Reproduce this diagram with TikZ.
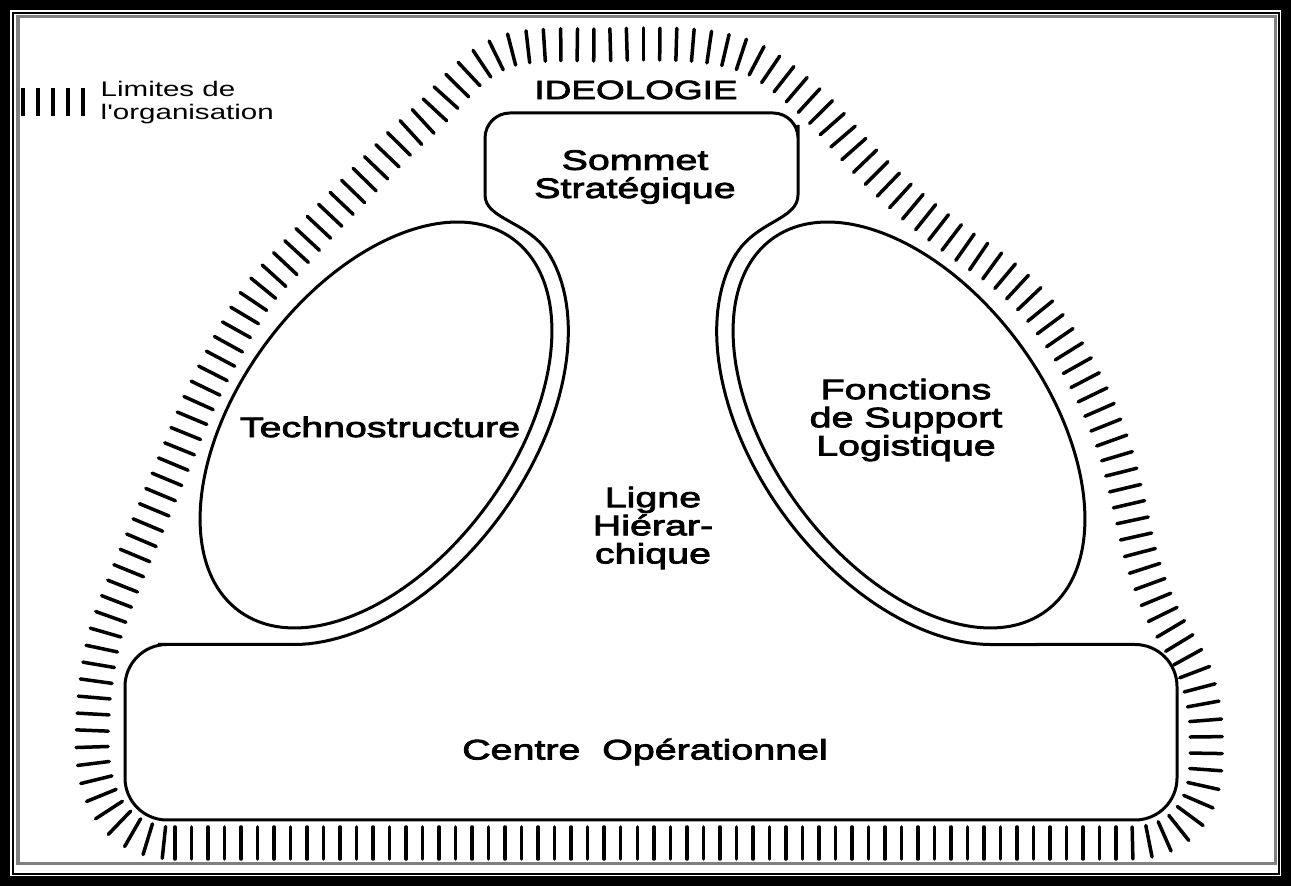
\documentclass[tikz,border=0pt]{standalone}
\usepackage{fontspec}
\newfontfamily\labelfont[FakeStretch=1.4,FakeBold=3]{Liberation Sans}
\newfontfamily\legendfont[FakeStretch=1.4]{Liberation Sans}
\usetikzlibrary{decorations.markings}

\begin{document}
\begin{tikzpicture}[
	x=0.01cm, y=-0.01cm,
	every node/.style={font=\labelfont\fontsize{8}{8}\selectfont, inner sep=0pt, align=center},
	trait/.style={line width=0.03cm},
	cadre/.style={line width=0.1cm},
	limite/.style={decoration={markings,
		mark=between positions 0 and 1 step 0.165cm with {\draw[line width=0.035cm, line cap=round] (0,-0.16cm) -- (0,0.16cm);}},
		decorate}
	]
	
	% cadre
	\useasboundingbox (0,0) rectangle (1291,886);
	\draw[cadre] (5,5) rectangle (1286,881);
	\draw[line width=0.02cm] (13,13) rectangle (1279,874);
	\draw[line width=0.03cm, gray] (18,17) rectangle (1275,864);
	
	% limites de l'organisation
	\path[limite] (175,843) -- (1130,843) .. controls (1180,843) and (1206,810) .. (1206,760)
		-- plot[smooth, tension=0.55] coordinates {
		(1206,760) (1205,715) (1193,668) (1162,613) (1142,560) (1128,500) (1115,450)
		(1095,400) (1068,350) (1035,305) (1000,272) (955,240) (905,200) (862,158)
		(822,113) (785,80) (755,60) (725,50) (690,45) (643,44) (600,45) (550,45)
		(510,50) (480,65) (455,88) (430,115) (403,140) (372,172) (340,205) (298,250)
		(258,295) (228,345) (200,400) (175,460) (150,520) (125,580) (105,635) (95,690) (92,740)}
		.. controls (92,810) and (125,843) .. (175,843) -- cycle;
	
	% contour : sommet, ligne hierarchique, centre operationnel
	\draw[trait] (485,195) [rounded corners=0.25cm] -- (485,113) -- (798,113) -- (798,150)
		[sharp corners] -- (798,195)
		.. controls (798,220) and (755,221) .. (735,256)
		-- plot[domain=15:155.4, samples=60] ({909-248*0.593*cos(\x)-154*0.805*sin(\x)}, {425-248*0.805*cos(\x)+154*0.593*sin(\x)})
		-- (1050,644.5) [rounded corners=0.42cm] -- (1177,644.5) -- (1177,820) -- (125,820) -- (125,644.5) -- (200,644.5)
		[sharp corners] -- (294,644.5)
		-- plot[domain=155.4:15, samples=60] ({376+248*0.593*cos(\x)+154*0.805*sin(\x)}, {425-248*0.805*cos(\x)+154*0.593*sin(\x)})
		.. controls (530,221) and (485,220) .. (485,195) -- cycle;
	
	% technostructure et fonctions de support
	\draw[trait, rotate around={53.6:(376,425)}] (376,425) ellipse[x radius=231, y radius=137];
	\draw[trait, rotate around={-53.6:(909,425)}] (909,425) ellipse[x radius=231, y radius=137];
	
	\node[font=\labelfont\fontsize{7.5}{8}\selectfont] (ideologie) at (636,90) {IDEOLOGIE};
	\node (sommet) at (635,177) {Sommet\\Stratégique};
	\node (techno) at (380,427) {Technostructure};
	\node (support) at (906,420) {Fonctions\\de Support\\Logistique};
	\node (ligne) at (653,528) {Ligne\\Hiérar-\\chique};
	\node (centre) at (645,752) {Centre~~Opérationnel};
	
	% legende
	\foreach \i in {0,...,4}
		\draw[line width=0.035cm] (23+15*\i,88) -- (23+15*\i,116);
	\node[font=\legendfont\fontsize{6}{6.5}\selectfont, align=left, anchor=north west] (legende) at (100,81) {Limites de\\l'organisation};
	
\end{tikzpicture}
\end{document}
